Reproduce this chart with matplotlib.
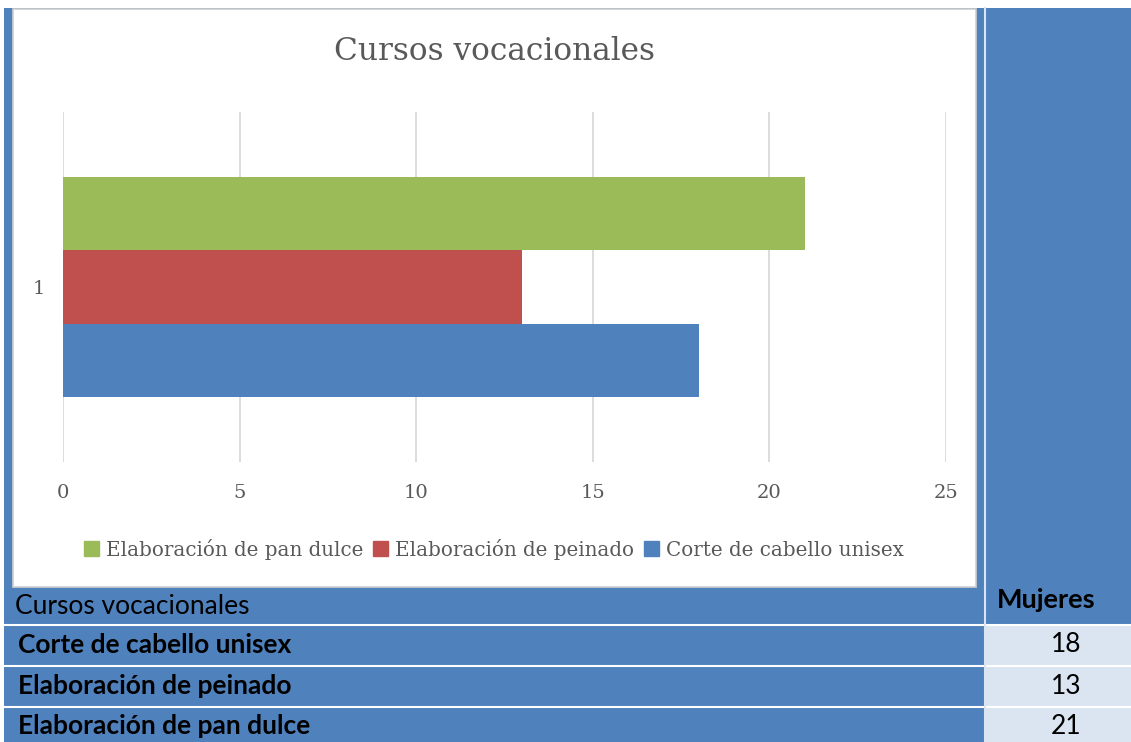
import matplotlib
matplotlib.use("Agg")
import matplotlib.pyplot as plt
from matplotlib.patches import Rectangle, Patch

# ---- data ----
courses = ["Corte de cabello unisex", "Elaboración de peinado", "Elaboración de pan dulce"]
women = [18, 13, 21]
category_labels = ["1"]
title = "Cursos vocacionales"
table_header = "Cursos vocacionales"
value_header = "Mujeres"
colors = ["#4f81bd", "#c0504d", "#9bbb59"]

W, H = 1131, 742
fig = plt.figure(figsize=(W / 100, H / 100), dpi=100)
fig.patch.set_facecolor("white")

def fx(x):
    return x / W

def fy(y):
    return 1 - y / H

def rect(x0, y0, x1, y1, **kw):
    fig.patches.append(Rectangle((fx(x0), fy(y1)), fx(x1) - fx(x0), fy(y0) - fy(y1),
                                 transform=fig.transFigure, **kw))

blue = "#4f81bd"
light = "#dbe5f1"
# blue background of the table
rect(4, 8, W, H, facecolor=blue, edgecolor="none", zorder=0)
# right light cells for data rows
for y0, y1 in [(625, 665), (666, 706), (707, H)]:
    rect(986, y0, W, y1, facecolor=light, edgecolor="none", zorder=0.5)
# white separators
for y in [624.5, 665.5, 706.5]:
    fig.lines.append(plt.Line2D([fx(4), 1], [fy(y), fy(y)], transform=fig.transFigure,
                                color="white", lw=1.5, zorder=1))
fig.lines.append(plt.Line2D([fx(985), fx(985)], [fy(8), 0], transform=fig.transFigure,
                            color="#dbe5f1", lw=1.5, zorder=1))
# chart white box
rect(13, 9, 976, 587, facecolor="white", edgecolor="#d0d0d0", lw=1.2, zorder=2)

# ---- chart axes ----
ax = fig.add_axes([fx(63), fy(462), fx(946) - fx(63), fy(112) - fy(462)], zorder=3)
ax.set_facecolor("none")
bh = 0.2086
offsets = [-bh, 0, bh]
base = [1]
for i, (name, val) in enumerate(zip(courses, women)):
    ax.barh([b + offsets[i] for b in base], [val], height=bh, color=colors[i], label=name,
            zorder=3)
ax.set_xlim(0, 25)
ax.set_ylim(0.5, 1.5)
ax.set_xticks(range(0, 26, 5))
ax.set_yticks(base)
ax.set_yticklabels(category_labels)
ax.grid(axis="x", color="#d9d9d9", lw=1.3, zorder=0)
ax.set_axisbelow(True)
for s in ax.spines.values():
    s.set_visible(False)
ax.tick_params(length=0, labelsize=14, labelcolor="#595959")
ax.tick_params(axis="x", pad=16)
ax.tick_params(axis="y", pad=13)
for lab in ax.get_xticklabels() + ax.get_yticklabels():
    lab.set_family("DejaVu Serif")

fig.text(fx(494), fy(52), title, ha="center", va="center", fontsize=22.5,
         family="DejaVu Serif", color="#595959", zorder=4)

handles = [Patch(color=colors[i]) for i in [2, 1, 0]]
labels = [courses[i] for i in [2, 1, 0]]
leg = fig.legend(handles, labels, loc="center", bbox_to_anchor=(fx(494), fy(549)),
                 ncol=3, frameon=False, prop={"family": "DejaVu Serif", "size": 14.3},
                 handlelength=0.75, handleheight=0.75, handletextpad=0.35, columnspacing=0.5,
                 labelcolor="#595959")
leg.set_zorder(4)

# ---- table text ----
fig.text(fx(15), fy(606), table_header, ha="left", va="center", fontsize=19,
         family="Lato", color="black", zorder=4)
fig.text(fx(1046), fy(600), value_header, ha="center", va="center", fontsize=19.5,
         family="Lato", weight="bold", color="black", zorder=4)
row_centers = [645, 686, 726]
for yc, name, val in zip(row_centers, courses, women):
    fig.text(fx(18), fy(yc), name, ha="left", va="center", fontsize=19, family="Lato",
             weight="bold", color="black", zorder=4)
    fig.text(fx(1066), fy(yc), str(val), ha="center", va="center", fontsize=19,
             family="Lato", color="black", zorder=4)

fig.savefig("out.png", dpi=100)
